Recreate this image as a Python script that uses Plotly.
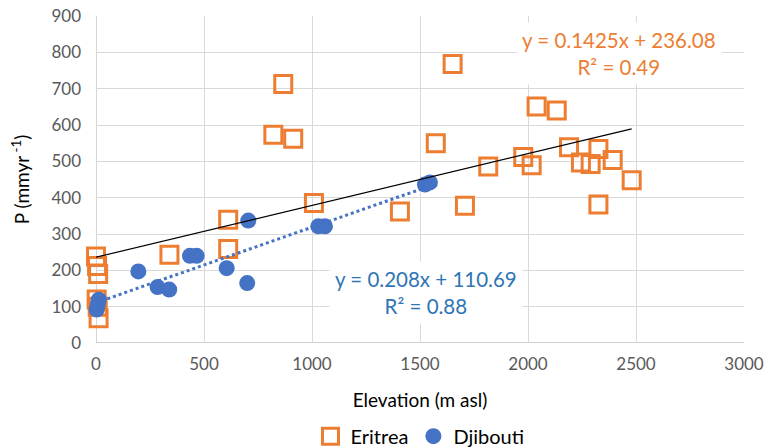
import plotly.graph_objects as go

# Eritrea stations: elevation (m asl) and annual precipitation (mm/yr)
eritrea_elev = [0, 5, 10, 3, 8, 12, 340, 612, 612, 821, 867, 913, 1009,
                1407, 1573, 1651, 1708, 1816, 1978, 2017, 2040, 2133,
                2190, 2245, 2290, 2326, 2326, 2392, 2480]
eritrea_p = [238, 212, 190, 120, 100, 68, 243, 339, 259, 573, 713, 562, 385,
             362, 550, 768, 378, 486, 512, 489, 651, 640,
             539, 497, 493, 534, 381, 504, 448]

# Djibouti stations
djibouti_elev = [3, 8, 13, 196, 285, 339, 435, 466, 605, 700, 705,
                 1029, 1060, 1523, 1546]
djibouti_p = [92, 105, 119, 197, 154, 147, 240, 240, 206, 165, 337,
              321, 321, 436, 442]

# Linear trend fits (slope, intercept, R²) and their x extents
eritrea_fit = (0.1425, 236.08, 0.49)
djibouti_fit = (0.208, 110.69, 0.88)
eritrea_range = [0, 2480]
djibouti_range = [0, 1546]

x_ticks = [0, 500, 1000, 1500, 2000, 2500, 3000]
y_ticks = [0, 100, 200, 300, 400, 500, 600, 700, 800, 900]

ORANGE = "#ED7D31"
BLUE = "#4472C4"
BLUE_TXT = "#2E75B6"
FONT = "Lato"

fig = go.Figure()

fig.add_trace(go.Scatter(
    x=eritrea_elev, y=eritrea_p, mode="markers", name="Eritrea",
    cliponaxis=False,
    marker=dict(symbol="square-open", size=17, color=ORANGE,
                line=dict(width=3, color=ORANGE)),
))
fig.add_trace(go.Scatter(
    x=djibouti_elev, y=djibouti_p, mode="markers", name="Djibouti",
    cliponaxis=False,
    marker=dict(symbol="circle", size=16, color=BLUE,
                line=dict(width=0)),
))

# Trend lines from the fitted equations
ex = eritrea_range
fig.add_trace(go.Scatter(
    x=ex, y=[eritrea_fit[0] * v + eritrea_fit[1] for v in ex],
    mode="lines", line=dict(color="black", width=1.2),
    showlegend=False, hoverinfo="skip",
))
dx = djibouti_range
fig.add_trace(go.Scatter(
    x=dx, y=[djibouti_fit[0] * v + djibouti_fit[1] for v in dx],
    mode="lines", line=dict(color=BLUE, width=3, dash="dot"),
    showlegend=False, hoverinfo="skip",
))

def eq_text(fit):
    return f"y = {fit[0]:g}x + {fit[1]:.2f}<br>R² = {fit[2]:.2f}"

fig.add_annotation(
    x=2420, y=796, xref="x", yref="y", text=eq_text(eritrea_fit),
    showarrow=False, align="center", bgcolor="white", borderpad=5,
    font=dict(family=FONT, size=20.5, color=ORANGE),
)
fig.add_annotation(
    x=1530, y=138, xref="x", yref="y", text=eq_text(djibouti_fit),
    showarrow=False, align="center", bgcolor="white", borderpad=5,
    font=dict(family=FONT, size=20.5, color=BLUE_TXT),
)

axis_common = dict(
    showgrid=True, gridcolor="#D9D9D9", gridwidth=1.3,
    zeroline=False, showline=False, ticks="", automargin=False,
    tickfont=dict(family=FONT, size=17, color="#595959"),
)

fig.update_xaxes(
    range=[0, 3000], tickvals=x_ticks, ticklabelstandoff=9, **axis_common,
    title=dict(text="Elevation (m asl)", standoff=20,
               font=dict(family=FONT, size=19, color="black")),
)
fig.update_yaxes(
    range=[0, 900], tickvals=y_ticks, ticklabelstandoff=14, **axis_common,
    title=dict(text="P (mmyr<sup> -1</sup>)", standoff=16,
               font=dict(family=FONT, size=19, color="black")),
)

# Axis frame lines along x=0 and y=0
fig.add_shape(type="line", xref="x", yref="y", x0=0, x1=3000, y0=0, y1=0,
              line=dict(color="#BFBFBF", width=1.3), layer="below")
fig.add_shape(type="line", xref="x", yref="y", x0=0, x1=0, y0=0, y1=900,
              line=dict(color="#BFBFBF", width=1.3), layer="below")

fig.update_layout(
    width=779, height=448,
    margin=dict(l=96, r=35, t=16, b=105, autoexpand=False),
    plot_bgcolor="white", paper_bgcolor="white",
    font=dict(family=FONT),
    legend=dict(orientation="h", x=0.5, xanchor="center", y=-0.285,
                yanchor="middle", itemwidth=30,
                font=dict(family=FONT, size=20, color="black")),
)

fig.write_html("out.html")
